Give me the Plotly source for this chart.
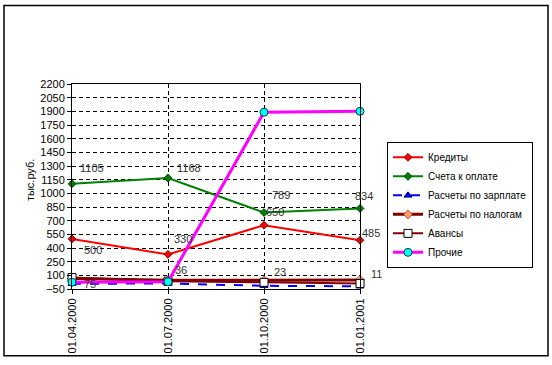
import plotly.graph_objects as go

categories = ["01.04.2000", "01.07.2000", "01.10.2000", "01.01.2001"]
series_names = ["Кредиты", "Счета к оплате", "Расчеты по зарплате",
                "Расчеты по налогам", "Авансы", "Прочие"]
kredity = [500, 330, 650, 485]
scheta = [1105, 1168, 789, 834]
zarplata = [8, 10, -15, -20]
nalogi = [65, 45, 45, 50]
avansy = [75, 36, 23, 11]
prochie = [25, 30, 1890, 1900]
y_ticks = list(range(-50, 2201, 150))
y_title = "тыс.руб."

W, H = 552, 365
L, R, T, B = 72, 360, 84, 293  # plot area in px


def px_x(p):
    return (p - L) / (R - L)


def px_y(p):
    return (B - p) / (B - T)


FONT = "Liberation Sans, Arial, sans-serif"

fig = go.Figure()

styles = [
    dict(line=dict(color="#FF0000", width=2),
         marker=dict(symbol="diamond", size=6, color="#FF0000", line=dict(color="#800000", width=1))),
    dict(line=dict(color="#008000", width=2),
         marker=dict(symbol="diamond", size=6, color="#008000", line=dict(color="#004000", width=1))),
    dict(line=dict(color="#0000FF", width=2, dash="dash"),
         marker=dict(symbol="triangle-up", size=7, color="#0000FF", line=dict(color="#000080", width=1))),
    dict(line=dict(color="#800000", width=3),
         marker=dict(symbol="diamond", size=7, color="#FF9966", line=dict(color="#800000", width=0.5))),
    dict(line=dict(color="#800000", width=2),
         marker=dict(symbol="square", size=8, color="#FFFFFF", line=dict(color="#000000", width=1))),
    dict(line=dict(color="#FF00FF", width=3),
         marker=dict(symbol="circle", size=8, color="#00FFFF", line=dict(color="#004040", width=1))),
]
all_vals = [kredity, scheta, zarplata, nalogi, avansy, prochie]

for name, vals, st in zip(series_names, all_vals, styles):
    fig.add_trace(go.Scatter(x=categories, y=vals, name=name, mode="lines+markers",
                             line=st["line"], marker=st["marker"], cliponaxis=False))

# data labels: (series values, x offsets px, y offsets px)
label_sets = [
    (kredity, [10, 4, 0, 0], [-11, 15, 13, 7]),
    (scheta, [6, 7, 6, -7], [16, 10, 18, 12]),
    (avansy, [10, 5, 8, 9], [-6, 11, 10, 9]),
]
annotations = []
for vals, dxs, dys in label_sets:
    for c, v, dx, dy in zip(categories, vals, dxs, dys):
        annotations.append(dict(x=c, y=v, text=str(v), showarrow=False,
                                xanchor="left", yanchor="middle", xshift=dx, yshift=dy,
                                font=dict(family=FONT, size=11, color="#333333")))

annotations.append(dict(x=px_x(30), y=px_y(182), xref="paper", yref="paper",
                        xanchor="center", yanchor="middle",
                        text=y_title, textangle=-90, showarrow=False,
                        font=dict(family=FONT, size=11, color="#000000")))

shapes = [dict(type="rect", xref="paper", yref="paper",
               x0=px_x(4), x1=px_x(548), y0=px_y(4), y1=px_y(361),
               line=dict(color="#000000", width=1.5), layer="below")]

fig.update_layout(
    width=W, height=H,
    margin=dict(l=L, r=W - R, t=T, b=H - B),
    paper_bgcolor="#FFFFFF", plot_bgcolor="#FFFFFF",
    font=dict(family=FONT, size=11, color="#000000"),
    showlegend=True,
    legend=dict(x=px_x(387), y=px_y(143), xanchor="left", yanchor="top",
                bordercolor="#000000", borderwidth=1, bgcolor="#FFFFFF",
                font=dict(family=FONT, size=10, color="#000000"),
                tracegroupgap=0, itemwidth=30),
    annotations=annotations,
    shapes=shapes,
)

fig.update_xaxes(type="category", range=[0, 3], showgrid=True,
                 gridcolor="#000000", griddash="4px,3px", gridwidth=1,
                 showline=True, linecolor="#000000", linewidth=1, mirror=True,
                 ticks="outside", ticklen=4, tickcolor="#000000",
                 tickangle=-90, tickfont=dict(family=FONT, size=11, color="#000000"))
fig.update_yaxes(range=[-50, 2200], tickvals=y_ticks, showgrid=True,
                 gridcolor="#000000", griddash="4px,3px", gridwidth=1,
                 zeroline=False,
                 showline=True, linecolor="#000000", linewidth=1, mirror=True,
                 ticks="outside", ticklen=4, tickcolor="#000000",
                 tickfont=dict(family=FONT, size=11, color="#000000"))

fig.write_html("out.html", post_script="document.body.style.margin='0';",
               config={"displayModeBar": False})
